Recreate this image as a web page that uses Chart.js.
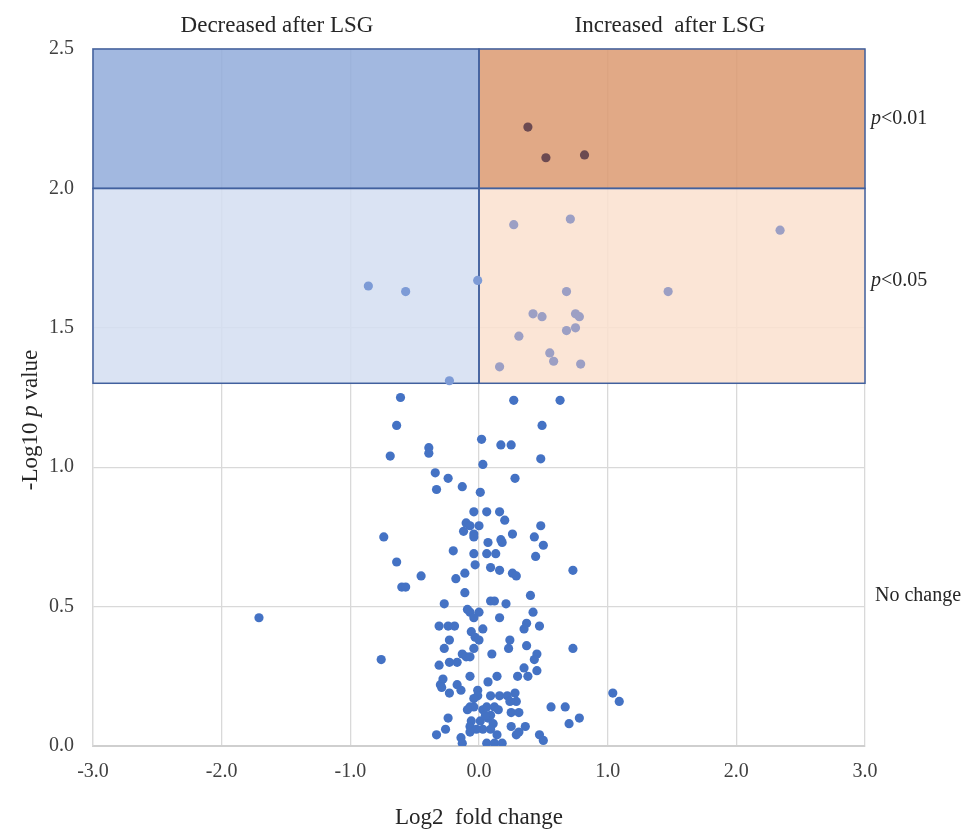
<!DOCTYPE html>
<html>
<head>
<meta charset="utf-8">
<script src="https://cdn.jsdelivr.net/npm/chart.js@4.4.1/dist/chart.umd.min.js"></script>
<style>
  html, body { margin: 0; padding: 0; background: #fff; }
  #wrap { width: 962px; height: 829px; }
</style>
</head>
<body>
<div id="wrap"><canvas id="volcano"></canvas></div>
<script>
// Log2 fold change (x) and -Log10 p value (y)
const log2FC = [
  // p<0.01
  0.38, 0.52, 0.82,
  // p<0.05
  0.27, 0.71, 2.34, 0.68, 1.47, 0.42, 0.49, 0.75, 0.78, 0.31, 0.68, 0.75, 0.55, 0.58, 0.16, 0.79,
  -0.86, -0.57, -0.23, -0.01,
  // no change
  -0.61, 0.27, 0.63, -0.64, 0.49, 0.02, 0.17, 0.25, -0.39, -0.39, -0.69, 0.48, 0.03, -0.34, -0.24, 0.28,
  -0.13, -0.33, 0.01, -0.04, 0.06, 0.16, 0.20, -0.10, -0.07, 0.00, 0.48, -0.12, -0.04, -0.04, 0.26, 0.43,
  0.17, 0.18, 0.07, 0.50, -0.74, -0.20, -0.04, 0.06, 0.13, 0.44, -0.64, -0.03, 0.73, 0.09, 0.16, -0.45,
  -0.11, -0.18, 0.26, 0.29, -0.60, -0.57, -0.11, 0.40, 0.09, 0.12, 0.21, -0.27, -0.09, -0.07, 0.00, 0.42,
  -0.04, 0.16, 0.37, 0.47, 0.35, -0.31, -0.24, -0.19, 0.03, -0.06, -0.23, -0.03, 0.00, 0.24, 0.23, 0.37,
  0.73, -0.27, -0.04, 0.10, 0.45, -0.13, -0.10, -0.07, 0.43, -0.76, -0.31, -0.23, -0.17, 0.35, 0.45, 0.30,
  0.38, 0.14, -0.07, 0.07, -0.28, -0.30, -0.17, -0.29, -0.14, -0.01, -0.23, -0.01, 0.09, 0.16, 0.22, 0.28,
  0.29, 0.24, -0.07, 0.06, 0.12, -0.04, -0.09, 0.15, 0.25, 0.31, 0.56, 0.67, 0.70, 0.78, -0.24, -0.06,
  0.01, 0.07, 0.11, 0.25, 0.36, -0.07, 0.03, 0.09, -0.26, -0.33, -0.14, -0.07, 0.14, 0.29, 0.31, 0.47,
  0.50, -0.13, 0.06, 0.12, 0.18, 1.04, 1.09, -1.71, -0.04, 0.03, 0.09, 0.05, -0.02
];
const negLog10P = [
  2.22, 2.11, 2.12,
  1.87, 1.89, 1.85, 1.63, 1.63, 1.55, 1.54, 1.55, 1.54, 1.47, 1.49, 1.50, 1.41, 1.38, 1.36, 1.37,
  1.65, 1.63, 1.31, 1.67,
  1.25, 1.24, 1.24, 1.15, 1.15, 1.10, 1.08, 1.08, 1.07, 1.05, 1.04, 1.03, 1.01, 0.98, 0.96, 0.96,
  0.93, 0.92, 0.91, 0.84, 0.84, 0.84, 0.81, 0.80, 0.79, 0.79, 0.79, 0.77, 0.76, 0.75, 0.76, 0.75,
  0.74, 0.73, 0.73, 0.72, 0.75, 0.70, 0.69, 0.69, 0.69, 0.68, 0.66, 0.65, 0.63, 0.64, 0.63, 0.61,
  0.62, 0.60, 0.62, 0.61, 0.57, 0.57, 0.55, 0.54, 0.52, 0.52, 0.51, 0.51, 0.49, 0.48, 0.48, 0.48,
  0.46, 0.46, 0.44, 0.43, 0.42, 0.43, 0.43, 0.43, 0.42, 0.41, 0.38, 0.39, 0.38, 0.38, 0.35, 0.36,
  0.35, 0.35, 0.35, 0.33, 0.33, 0.33, 0.32, 0.32, 0.31, 0.31, 0.29, 0.30, 0.30, 0.28, 0.27, 0.25,
  0.25, 0.25, 0.25, 0.23, 0.24, 0.22, 0.22, 0.21, 0.20, 0.20, 0.19, 0.18, 0.18, 0.18, 0.18, 0.19,
  0.16, 0.16, 0.14, 0.14, 0.14, 0.14, 0.13, 0.13, 0.12, 0.12, 0.14, 0.14, 0.08, 0.10, 0.10, 0.09,
  0.09, 0.10, 0.08, 0.07, 0.07, 0.07, 0.06, 0.06, 0.06, 0.04, 0.03, 0.05, 0.04, 0.04, 0.05, 0.04,
  0.02, 0.01, 0.01, 0.01, 0.01, 0.19, 0.16, 0.46, 0.17, 0.13, 0.11, 0.11, 0.06
];

const xTicks = [-3, -2, -1, 0, 1, 2, 3];
const yTicks = [0, 0.5, 1.0, 1.5, 2.0, 2.5];
const cutP05 = 1.301;   // -log10(0.05)
const cutP01 = 2.0;     // -log10(0.01)

const points = log2FC.map((x, i) => ({ x: x, y: negLog10P[i] }));

const serif = '"Liberation Serif", "Times New Roman", serif';

function pointColor(ctx) {
  const p = ctx.raw;
  if (!p) return '#4472c4';
  if (p.y >= cutP01) return p.x >= 0 ? '#6c4a51' : '#5b78b8';
  if (p.y >= cutP05) return p.x >= 0 ? '#9c9fc4' : '#7d9bd6';
  return '#4472c4';
}

// shaded significance boxes, drawn under the points
const zonesPlugin = {
  id: 'zones',
  beforeDatasetsDraw(chart) {
    const { ctx, scales: { x, y } } = chart;
    const zones = [
      [-3, 0, cutP01, 2.5, 'rgba(146,172,219,0.85)'],
      [-3, 0, cutP05, cutP01, 'rgba(212,222,241,0.85)'],
      [0, 3, cutP01, 2.5, 'rgba(220,154,113,0.85)'],
      [0, 3, cutP05, cutP01, 'rgba(250,224,207,0.85)']
    ];
    ctx.save();
    zones.forEach(z => {
      const x0 = x.getPixelForValue(z[0]), x1 = x.getPixelForValue(z[1]);
      const y0 = y.getPixelForValue(z[3]), y1 = y.getPixelForValue(z[2]);
      ctx.fillStyle = z[4];
      ctx.fillRect(x0, y0, x1 - x0, y1 - y0);
    });
    ctx.strokeStyle = '#41609e';
    ctx.lineWidth = 1.5;
    zones.forEach(z => {
      const x0 = x.getPixelForValue(z[0]), x1 = x.getPixelForValue(z[1]);
      const y0 = y.getPixelForValue(z[3]), y1 = y.getPixelForValue(z[2]);
      ctx.strokeRect(x0, y0, x1 - x0, y1 - y0);
    });
    ctx.restore();
  }
};

// draws a line of text made of pieces, some italic
function mixedText(ctx, parts, size, x, y, align) {
  const fonts = parts.map(p => (p[1] ? 'italic ' : '') + size + 'px ' + serif);
  let total = 0;
  const widths = parts.map((p, i) => { ctx.font = fonts[i]; const w = ctx.measureText(p[0]).width; total += w; return w; });
  let cx = align === 'center' ? x - total / 2 : x;
  ctx.textAlign = 'left';
  parts.forEach((p, i) => {
    ctx.font = fonts[i];
    ctx.fillText(p[0], cx, y);
    cx += widths[i];
  });
}

const labelsPlugin = {
  id: 'labels',
  afterDraw(chart) {
    const ctx = chart.ctx;
    ctx.save();
    ctx.fillStyle = '#262626';
    ctx.textBaseline = 'alphabetic';
    mixedText(ctx, [['Decreased after LSG', false]], 23, 277, 32, 'center');
    mixedText(ctx, [['Increased  after LSG', false]], 23, 670, 32, 'center');
    mixedText(ctx, [['p', true], ['<0.01', false]], 20, 871, 124, 'left');
    mixedText(ctx, [['p', true], ['<0.05', false]], 20, 871, 286, 'left');
    mixedText(ctx, [['No change', false]], 20, 875, 601, 'left');
    mixedText(ctx, [['Log2  fold change', false]], 23, 479, 824, 'center');
    ctx.translate(37, 420);
    ctx.rotate(-Math.PI / 2);
    mixedText(ctx, [['-Log10 ', false], ['p', true], [' value', false]], 23, 0, 0, 'center');
    ctx.restore();
  }
};

new Chart(document.getElementById('volcano'), {
  type: 'scatter',
  data: {
    datasets: [{
      data: points,
      backgroundColor: pointColor,
      borderWidth: 0,
      pointRadius: 4.6,
      pointHoverRadius: 4.6
    }]
  },
  options: {
    responsive: true,
    maintainAspectRatio: false,
    animation: false,
    layout: { padding: { top: 49, right: 97, left: 0, bottom: 0 } },
    plugins: {
      legend: { display: false },
      tooltip: { enabled: false }
    },
    scales: {
      x: {
        type: 'linear',
        min: -3,
        max: 3,
        afterFit: s => { s.height = 83; },
        afterBuildTicks: s => { s.ticks = xTicks.map(v => ({ value: v })); },
        ticks: {
          padding: 14,
          color: '#404040',
          font: { family: serif, size: 20 },
          callback: v => v.toFixed(1)
        },
        grid: { color: '#d9d9d9', lineWidth: 1.3, drawTicks: false },
        border: { display: true, color: '#cfcfcf', width: 2 }
      },
      y: {
        type: 'linear',
        min: 0,
        max: 2.5,
        afterFit: s => { s.width = 93; },
        afterBuildTicks: s => { s.ticks = yTicks.map(v => ({ value: v })); },
        ticks: {
          padding: 19,
          color: '#404040',
          font: { family: serif, size: 20 },
          callback: v => v.toFixed(1)
        },
        grid: { color: '#d9d9d9', lineWidth: 1.3, drawTicks: false },
        border: { display: true, color: '#d9d9d9', width: 1.3 }
      }
    }
  },
  plugins: [zonesPlugin, labelsPlugin]
});
</script>
</body>
</html>
